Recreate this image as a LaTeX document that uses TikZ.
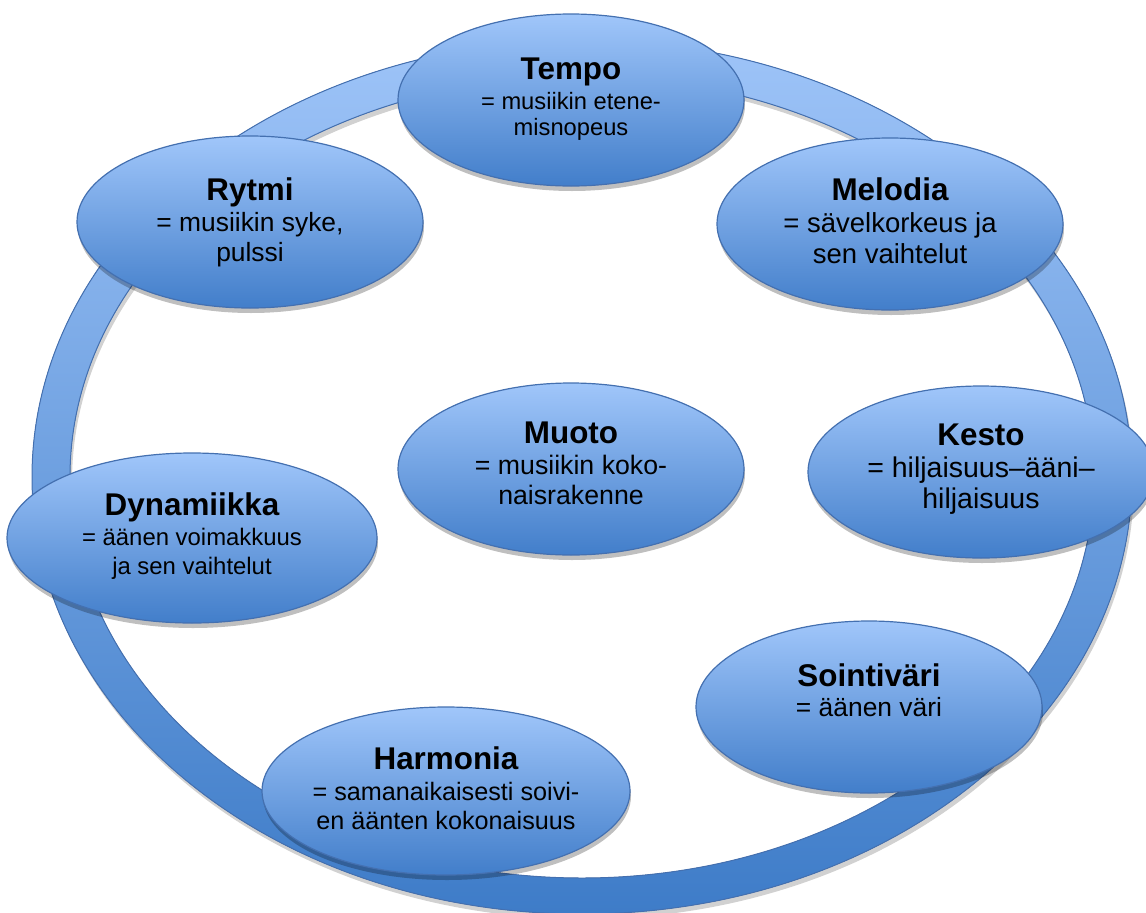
\documentclass[tikz,border=0pt]{standalone}
\usepackage{fontspec}
\setmainfont{Liberation Sans}
\usepackage{tikz}
\usetikzlibrary{shapes.geometric, shadows, positioning}

\definecolor{ringtop}{RGB}{158,196,248}
\definecolor{ringbot}{RGB}{62,124,200}
\definecolor{ovaltop}{RGB}{160,198,250}
\definecolor{ovalbot}{RGB}{66,126,202}
\definecolor{edgeblue}{RGB}{68,112,176}

\newcommand{\otsikko}[1]{{\fontsize{31.4}{34}\selectfont\bfseries\rule{0pt}{24pt}#1}}

\tikzset{
  osa/.style={ellipse, draw=edgeblue, line width=1.2pt,
    top color=ovaltop, bottom color=ovalbot,
    minimum width=346pt, minimum height=172pt, inner sep=0pt,
    drop shadow={shadow xshift=1pt, shadow yshift=-5pt, opacity=0.25, fill=black}},
  leveaosa/.style={osa, minimum width=370pt, minimum height=170pt},
  teksti/.style={align=center, inner sep=0pt, anchor=north}
}

\begin{document}
\begin{tikzpicture}[x=1pt, y=-1pt]
\useasboundingbox (0,0) rectangle (1146,913);
% rengas
\fill[black, opacity=0.18, even odd rule] (584,482) ellipse [x radius=550, y radius=437] (584,482) ellipse [x radius=512, y radius=401];
\fill[even odd rule, top color=ringtop, bottom color=ringbot] (582,477) ellipse [x radius=550, y radius=437] (582,477) ellipse [x radius=512, y radius=401];
\draw[edgeblue, line width=1pt] (582,477) ellipse [x radius=550, y radius=437];
\draw[edgeblue, line width=1pt] (582,477) ellipse [x radius=512, y radius=401];
% osat
\node[osa] (tempo) at (571,100) {};
\node[osa] (rytmi) at (250,222) {};
\node[osa] (melodia) at (890,224) {};
\node[osa] (muoto) at (571,469) {};
\node[osa] (kesto) at (981,472) {};
\node[leveaosa] (dynamiikka) at (192,538) {};
\node[osa] (sointivari) at (869,707) {};
\node[leveaosa, minimum width=368pt, minimum height=168pt] (harmonia) at (446,791) {};
% tekstit
\node[teksti, font=\fontsize{23.7}{26}\selectfont] (tempo-teksti) at ([yshift=45pt]tempo.center)
  {\otsikko{Tempo}\\[4pt]= musiikin etene-\\misnopeus};
\node[teksti, font=\fontsize{26.4}{30}\selectfont] (rytmi-teksti) at ([yshift=46pt]rytmi.center)
  {\otsikko{Rytmi}\\[1pt]= musiikin syke,\\pulssi};
\node[teksti, font=\fontsize{27.5}{30.5}\selectfont] (melodia-teksti) at ([yshift=48pt]melodia.center)
  {\otsikko{Melodia}\\[2pt]= sävelkorkeus ja\\sen vaihtelut};
\node[teksti, font=\fontsize{26.7}{30}\selectfont] (muoto-teksti) at ([yshift=50pt]muoto.center)
  {\otsikko{Muoto}\\[1pt]= musiikin koko-\\naisrakenne};
\node[teksti, font=\fontsize{28.5}{31}\selectfont] (kesto-teksti) at ([yshift=51pt]kesto.center)
  {\otsikko{Kesto}\\[1pt]= hiljaisuus–ääni–\\hiljaisuus};
\node[teksti, font=\fontsize{23.9}{29}\selectfont] (dynamiikka-teksti) at ([yshift=47pt]dynamiikka.center)
  {\otsikko{Dynamiikka}\\[1pt]= äänen voimakkuus\\ja sen vaihtelut};
\node[teksti, font=\fontsize{26.4}{30}\selectfont] (sointivari-teksti) at ([yshift=45pt]sointivari.center)
  {\otsikko{Sointiväri}\\= äänen väri};
\node[teksti, font=\fontsize{25.2}{29}\selectfont] (harmonia-teksti) at ([yshift=46pt]harmonia.center)
  {\otsikko{Harmonia}\\[2pt]= samanaikaisesti soivi-\\en äänten kokonaisuus};
\end{tikzpicture}
\end{document}
